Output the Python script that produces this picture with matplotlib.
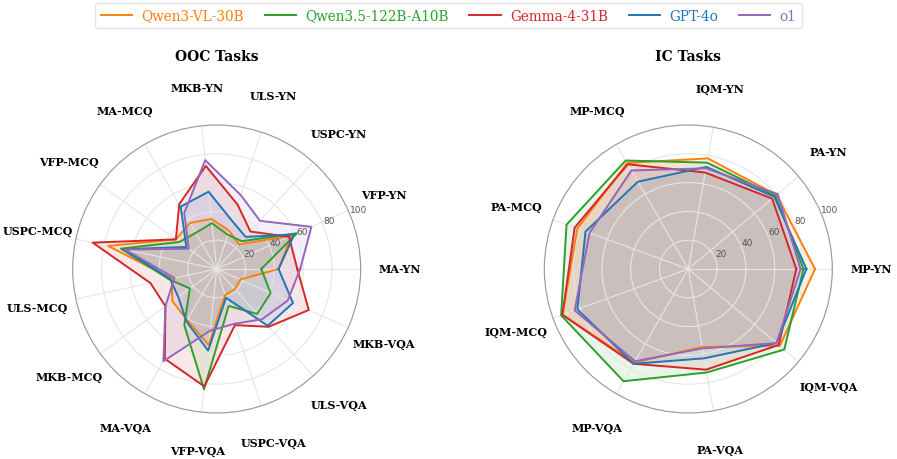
import numpy as np
import matplotlib.pyplot as plt
from matplotlib.lines import Line2D

plt.rcParams['font.family'] = 'DejaVu Serif'

models = ['Qwen3-VL-30B', 'Qwen3.5-122B-A10B', 'Gemma-4-31B', 'GPT-4o', 'o1']
colors = ['#ff7f0e', '#2ca02c', '#d62728', '#1f77b4', '#9467bd']

# OOC tasks (counter-clockwise from the right)
ooc_tasks = ['MA-YN', 'VFP-YN', 'USPC-YN', 'ULS-YN', 'MKB-YN',
             'MA-MCQ', 'VFP-MCQ', 'USPC-MCQ', 'ULS-MCQ', 'MKB-MCQ',
             'MA-VQA', 'VFP-VQA', 'USPC-VQA', 'ULS-VQA', 'MKB-VQA']
ooc_qwen3vl = [43, 57, 23, 28, 35, 37, 35, 77, 32, 38, 41, 53, 19, 19, 18]
ooc_qwen35 = [31, 61, 26, 25, 32, 29, 32, 68, 34, 23, 45, 84, 27, 42, 41]
ooc_gemma = [56, 55, 35, 47, 72, 52, 35, 88, 47, 44, 72, 82, 41, 54, 70]
ooc_gpt4o = [43, 59, 30, 35, 54, 50, 26, 66, 33, 33, 42, 57, 21, 53, 58]
ooc_o1 = [58, 72, 45, 54, 76, 45, 24, 65, 30, 44, 74, 43, 40, 47, 54]

# IC tasks
ic_tasks = ['MP-YN', 'PA-YN', 'IQM-YN', 'MP-MCQ', 'PA-MCQ',
            'IQM-MCQ', 'MP-VQA', 'PA-VQA', 'IQM-VQA']
ic_qwen3vl = [88, 80, 78, 85, 82, 93, 75, 55, 83]
ic_qwen35 = [80, 79, 75, 87, 90, 94, 90, 73, 87]
ic_gemma = [75, 76, 68, 84, 84, 93, 76, 71, 82]
ic_gpt4o = [82, 78, 72, 70, 76, 82, 76, 63, 80]
ic_o1 = [78, 81, 71, 79, 73, 84, 74, 56, 80]


def radar(ax, tasks, series):
    n = len(tasks)
    angles = np.linspace(0, 2 * np.pi, n, endpoint=False)
    closed = np.append(angles, angles[0])
    for vals, c in zip(series, colors):
        v = np.append(vals, vals[0])
        ax.plot(closed, v, color=c, lw=1.4)
        ax.fill(closed, v, color=c, alpha=0.1)
    ax.set_ylim(0, 100)
    ax.set_xticks(angles)
    ax.set_xticklabels([])
    for a, t in zip(angles, tasks):
        ax.text(a, 127, t, ha='center', va='center', fontsize=8,
                fontweight='bold', clip_on=False)
    ax.set_yticks([20, 40, 60, 80, 100])
    ax.set_yticklabels(['20', '40', '60', '80', '100'], fontsize=6.5,
                       color='#555555', family='DejaVu Sans')
    ax.set_rlabel_position(22.5)
    ax.grid(color='#e6e6e6', lw=0.8)
    ax.spines['polar'].set_color('#999999')
    ax.spines['polar'].set_linewidth(0.8)


fig = plt.figure(figsize=(8.97, 4.6), dpi=100)
ax1 = fig.add_axes([0.0810, 0.1, 0.3211, 0.6261], projection='polar')
ax2 = fig.add_axes([0.6068, 0.1, 0.3211, 0.6261], projection='polar')

radar(ax1, ooc_tasks, [ooc_qwen3vl, ooc_qwen35, ooc_gemma, ooc_gpt4o, ooc_o1])
radar(ax2, ic_tasks, [ic_qwen3vl, ic_qwen35, ic_gemma, ic_gpt4o, ic_o1])

fig.text(0.2416, 0.876, 'OOC Tasks', ha='center', va='center', fontsize=10, fontweight='bold')
fig.text(0.7673, 0.876, 'IC Tasks', ha='center', va='center', fontsize=10, fontweight='bold')

handles = [Line2D([], [], color=c, lw=1.4) for c in colors]
leg = fig.legend(handles, models, loc='upper center', bbox_to_anchor=(0.5, 1.0),
                 ncol=5, fontsize=9.8, handlelength=2.3, handletextpad=0.7,
                 columnspacing=1.5, borderaxespad=0.3,
                 frameon=True, fancybox=True, edgecolor='#dddddd')
for txt, c in zip(leg.get_texts(), colors):
    txt.set_color(c)

fig.savefig('out.png', dpi=100)
